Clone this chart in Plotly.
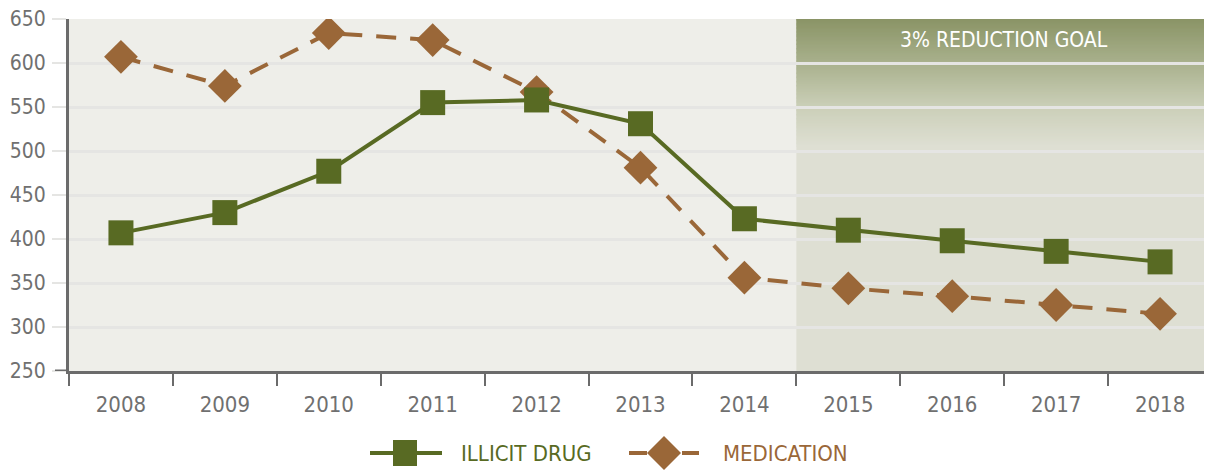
import plotly.graph_objects as go

# données
years = ['2008', '2009', '2010', '2011', '2012', '2013', '2014', '2015', '2016', '2017', '2018']
illicit_drug = [407, 430, 477, 555, 558, 531, 423, 410, 398, 386, 374]
medication = [607, 574, 634, 626, 567, 481, 356, 344, 335, 325, 315]
goal_label = '3% REDUCTION GOAL'
series_names = ['ILLICIT DRUG', 'MEDICATION']

GREEN = '#586A23'
BROWN = '#9A6738'
GRAY_TXT = '#707070'
AXIS = '#6B6B6B'
GRID = '#E5E5E3'
FONT = 'Liberation Sans Narrow, DejaVu Sans Condensed, Roboto Condensed, Arial Narrow, sans-serif'

# la page ajoute 8px de marge au body : la figure commence donc à (8, 8)
# zone de tracé voulue dans la page : x 69..1212, y 19..371
def px(x):
    return (x - 69) / 1143

def py(y):
    return (371 - y) / 352

def hex_mix(c1, c2, t):
    a = [int(c1[i:i + 2], 16) for i in (1, 3, 5)]
    b = [int(c2[i:i + 2], 16) for i in (1, 3, 5)]
    return '#%02x%02x%02x' % tuple(round(a[k] + (b[k] - a[k]) * t) for k in range(3))

fig = go.Figure()

# zone "objectif" : dégradé vertical fait de fines bandes
shapes = []
goal_x0, goal_x1 = 6.5, 10.5
shapes.append(dict(type='rect', xref='x', yref='y', x0=goal_x0, x1=goal_x1, y0=250, y1=506,
                   fillcolor='#DEDFD3', line_width=0, layer='below'))
stops = [(505, '#DEDFD3'), (550, '#CBCFB8'), (600, '#A9B18D'), (650, '#8A9466')]
step = 1.5
v = 505
while v < 650:
    mid = v + step / 2
    for (a, ca), (b, cb) in zip(stops[:-1], stops[1:]):
        if a <= mid <= b:
            col = hex_mix(ca, cb, (mid - a) / (b - a))
    shapes.append(dict(type='rect', xref='x', yref='y', x0=goal_x0, x1=goal_x1, y0=v, y1=min(v + step + 1, 650),
                       fillcolor=col, line_width=0, layer='below'))
    v += step

# petit trait à gauche de la ligne 250
shapes.append(dict(type='line', xref='paper', yref='y', xsizemode='pixel', xanchor=0,
                   x0=-14, x1=0, y0=250, y1=250, line=dict(color=AXIS, width=3)))

fig.add_trace(go.Scatter(
    x=years, y=medication, mode='lines+markers', name=series_names[1],
    line=dict(color=BROWN, width=4, dash='20px,14px'),
    marker=dict(symbol='diamond', size=26, color=BROWN),
    showlegend=False
))
fig.add_trace(go.Scatter(
    x=years, y=illicit_drug, mode='lines+markers', name=series_names[0],
    line=dict(color=GREEN, width=4),
    marker=dict(symbol='square', size=25, color=GREEN),
    showlegend=False
))

# légende faite à la main
ly = py(453)
shapes.append(dict(type='line', xref='paper', yref='paper', x0=px(370), x1=px(442), y0=ly, y1=ly,
                   line=dict(color=GREEN, width=4)))
shapes.append(dict(type='rect', xref='paper', yref='paper', xsizemode='pixel', ysizemode='pixel',
                   xanchor=px(405), yanchor=ly, x0=-12, x1=12, y0=-13, y1=13,
                   fillcolor=GREEN, line_width=0))
shapes.append(dict(type='line', xref='paper', yref='paper', x0=px(629), x1=px(647), y0=ly, y1=ly,
                   line=dict(color=BROWN, width=4)))
shapes.append(dict(type='line', xref='paper', yref='paper', x0=px(682), x1=px(699), y0=ly, y1=ly,
                   line=dict(color=BROWN, width=4)))
shapes.append(dict(type='path', xref='paper', yref='paper', xsizemode='pixel', ysizemode='pixel',
                   xanchor=px(664), yanchor=ly, path='M-17,0 L0,17 L17,0 L0,-17 Z',
                   fillcolor=BROWN, line_width=0))

annotations = [
    dict(x=8.5, y=626, xref='x', yref='y', text=goal_label, showarrow=False,
         font=dict(family=FONT, size=21, color='white')),
    dict(x=px(459), y=ly, xref='paper', yref='paper', text=series_names[0], showarrow=False,
         xanchor='left', yanchor='middle', font=dict(family=FONT, size=22, color=GREEN)),
    dict(x=px(721), y=ly, xref='paper', yref='paper', text=series_names[1], showarrow=False,
         xanchor='left', yanchor='middle', font=dict(family=FONT, size=22, color=BROWN)),
]

fig.update_layout(
    width=1204, height=463,
    margin=dict(l=61, r=0, t=11, b=100),
    paper_bgcolor='white',
    plot_bgcolor='#EEEEE9',
    font=dict(family=FONT, size=20, color=GRAY_TXT),
    shapes=shapes,
    annotations=annotations,
    showlegend=False,
)
fig.update_xaxes(
    type='category', range=[-0.5, 10.5], tickson='boundaries', automargin=False,
    ticks='outside', ticklen=12, tickwidth=2, tickcolor=AXIS, ticklabelstandoff=12,
    showline=True, linecolor=AXIS, linewidth=3, showgrid=False,
    tickfont=dict(family=FONT, size=22, color=GRAY_TXT),
)
fig.update_yaxes(
    range=[250, 650], dtick=50, automargin=False, ticklabeloverflow='allow',
    ticks='outside', ticklen=14, tickwidth=2, tickcolor=GRID, ticklabelstandoff=2,
    showline=True, linecolor=AXIS, linewidth=3, zeroline=False,
    showgrid=True, gridcolor=GRID, gridwidth=2.5,
    tickfont=dict(family=FONT, size=21, color=GRAY_TXT),
)

fig.write_html("out.html")
